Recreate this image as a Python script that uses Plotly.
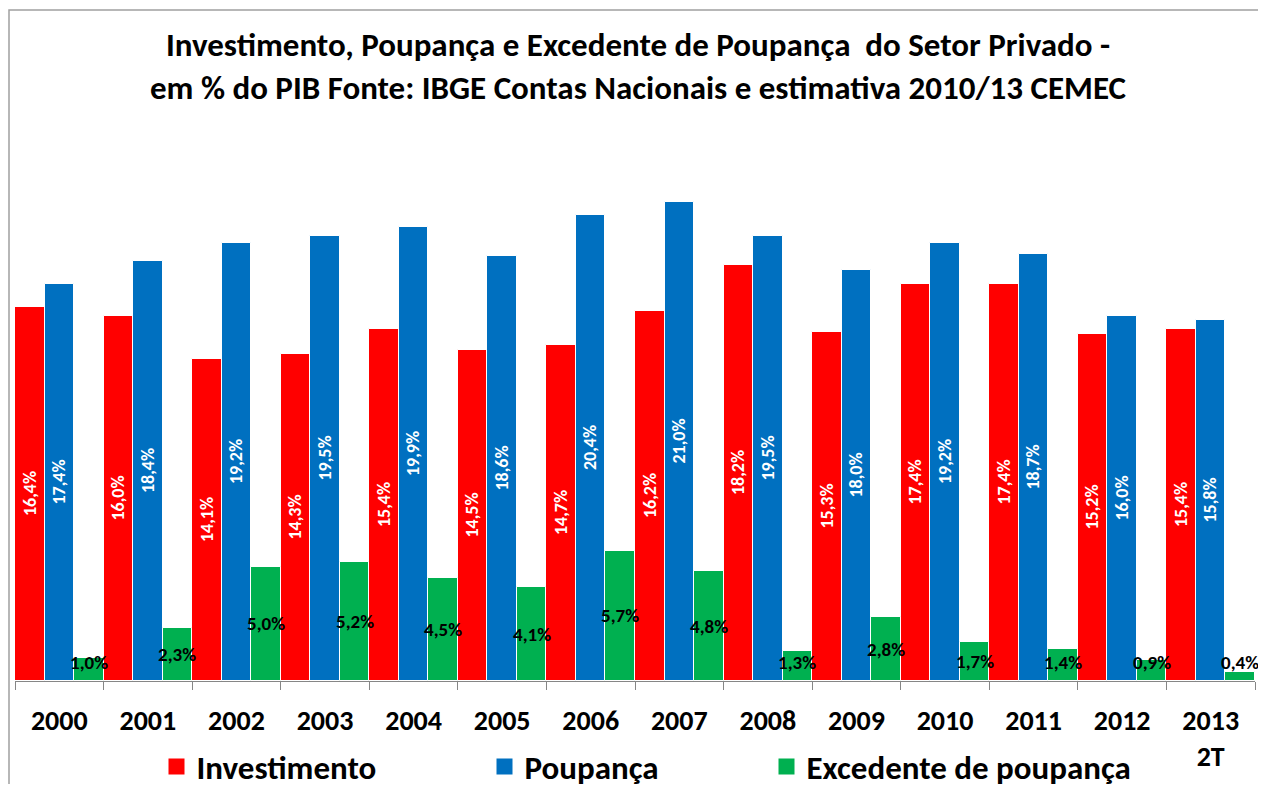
import plotly.graph_objects as go

anos = ["2000", "2001", "2002", "2003", "2004", "2005", "2006", "2007",
        "2008", "2009", "2010", "2011", "2012", "2013<br>2T"]
investimento = [16.4, 16.0, 14.1, 14.3, 15.4, 14.5, 14.7, 16.2, 18.2, 15.3, 17.4, 17.4, 15.2, 15.4]
poupanca = [17.4, 18.4, 19.2, 19.5, 19.9, 18.6, 20.4, 21.0, 19.5, 18.0, 19.2, 18.7, 16.0, 15.8]
excedente = [1.0, 2.3, 5.0, 5.2, 4.5, 4.1, 5.7, 4.8, 1.3, 2.8, 1.7, 1.4, 0.9, 0.4]

nomes = ["Investimento", "Poupança", "Excedente de poupança"]
cores = ["#FF0000", "#0070C0", "#00B050"]

FONT = "Carlito, Calibri, Lato, 'Open Sans', sans-serif"

# figure is 1250x776 (page body adds an 8px margin around it)
W, H = 1250, 776
ML, MR, MT, MB = 7, 3, 125, 103
PW, PH = W - ML - MR, H - MT - MB

def fmt(v):
    return f"{v:.1f}".replace(".", ",") + "%"

fig = go.Figure()
series = [investimento, poupanca, excedente]
for i, (serie, cor, nome) in enumerate(zip(series, cores, nomes)):
    if i < 2:
        kw = dict(text=[fmt(v) for v in serie], textposition="inside",
                  insidetextanchor="middle", textangle=-90, constraintext="none",
                  textfont=dict(color="white", size=18, family=FONT, weight="bold"))
    else:
        kw = dict(textposition="none")
    fig.add_trace(go.Bar(
        x=anos, y=serie, name=nome,
        marker=dict(color=cor, line=dict(color="white", width=1)),
        showlegend=False, hoverinfo="skip", **kw))

# legend entries with larger square symbols, one legend each
for i, (nome, cor) in enumerate(zip(nomes, cores)):
    lg = "legend" if i == 0 else f"legend{i+1}"
    fig.add_trace(go.Scatter(
        x=[None], y=[None], mode="markers", name=nome,
        marker=dict(symbol="square", size=18, color=cor),
        legend=lg, showlegend=True, hoverinfo="skip"))

# labels for surplus bars (x given as category index)
slot = PW / len(anos) / 3
for idx, v in enumerate(excedente):
    fig.add_annotation(x=idx, y=max(v / 2, 0.8), xref="x", yref="y", text=fmt(v),
                       showarrow=False, xshift=slot,
                       font=dict(color="black", size=19, family=FONT, weight="bold"))

legend_x = [0.1188, 0.3812, 0.6068]
legend_common = dict(orientation="h", yanchor="middle", y=0.0225, yref="container",
                     xanchor="left", xref="container",
                     bgcolor="rgba(0,0,0,0)", borderwidth=0, itemwidth=30,
                     font=dict(size=33, color="black", family=FONT, weight="bold"))
layout_legends = {}
for i, x in enumerate(legend_x):
    key = "legend" if i == 0 else f"legend{i+1}"
    layout_legends[key] = dict(legend_common, x=x)

fig.update_layout(
    width=W, height=H,
    paper_bgcolor="white", plot_bgcolor="white",
    margin=dict(l=ML, r=MR, t=MT, b=MB),
    barmode="group", bargap=0, bargroupgap=0,
    title=dict(text="Investimento, Poupança e Excedente de Poupança  do Setor Privado -<br>em % do PIB Fonte: IBGE Contas Nacionais e estimativa 2010/13 CEMEC",
               x=0.504, xanchor="center", y=0.9385, yanchor="top", yref="container",
               font=dict(size=33, color="black", family=FONT, weight="bold")),
    xaxis=dict(type="category", showline=True, linecolor="#868686", linewidth=1,
               ticks="outside", tickson="boundaries", ticklen=8, tickcolor="#868686",
               tickfont=dict(size=28, color="black", family=FONT, weight="bold"),
               ticklabelstandoff=14, automargin=False,
               showgrid=False, range=[-0.5, len(anos) - 0.5]),
    yaxis=dict(range=[0, 24], visible=False, showgrid=False, automargin=False),
    font=dict(family=FONT),
    **layout_legends,
)

# outer chart frame
fig.add_shape(type="rect", xref="paper", yref="paper",
              x0=(1 - ML) / PW, x1=(W + 10 - ML) / PW,
              y0=-(MB + 10) / PH, y1=(PH + MT - 2) / PH,
              line=dict(color="#A0A0A0", width=1.5), fillcolor="rgba(0,0,0,0)", layer="below")

fig.write_html("out.html")
